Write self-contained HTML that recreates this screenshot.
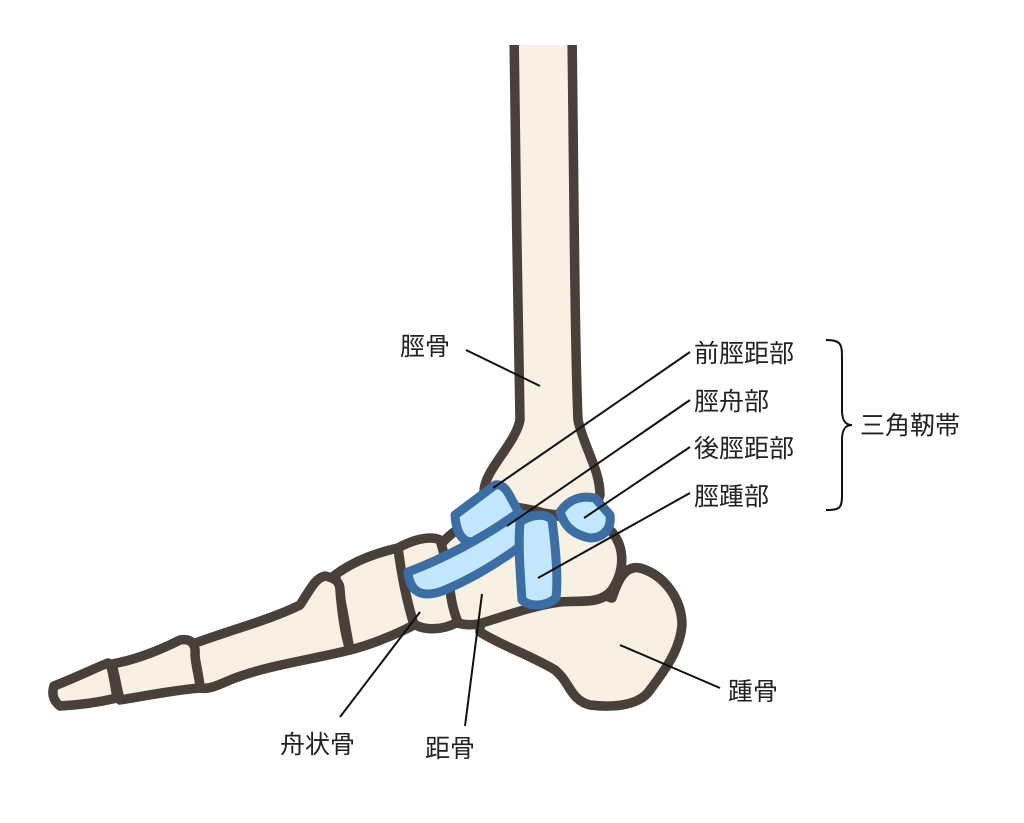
<!DOCTYPE html>
<html><head><meta charset="utf-8"><style>
html,body{margin:0;padding:0;background:#fff;}
svg{display:block;}
text{font-family:"Liberation Sans","Noto Sans CJK JP",sans-serif;font-size:25px;fill:#222;}
</style></head><body>
<svg width="1024" height="823" viewBox="0 0 1024 823">
<g fill="#f7f0e3" stroke="#4a403a" stroke-width="9.5" stroke-linejoin="round">
<path d="M480,612 C520,595 545,578 565,578 C590,580 605,598 612,598 C618,580 625,565 640,568 C665,575 682,600 682,625 C680,650 665,670 650,690 C640,705 615,708 590,705 C570,700 570,682 555,670 C530,655 500,645 480,632 Z"/>
<path d="M432,560 C440,540 460,522 490,518 C540,512 590,515 612,532 C625,548 625,570 612,590 C600,605 580,600 560,602 C530,606 500,618 478,624 C455,628 438,615 432,600 Z"/>
<path d="M514,30 L572,30 C574,200 575,350 578,420 C585,450 600,470 600,495 C595,515 560,518 540,512 C515,505 492,508 484,492 C484,470 515,445 520,420 C518,300 515,150 514,30 Z"/>
<path d="M398,548 C412,540 430,535 440,540 C450,570 448,600 458,622 C440,632 420,630 412,622 C405,600 400,575 398,548 Z"/>
<path d="M335,575 C355,560 380,552 398,548 C402,580 408,605 414,625 C395,635 370,645 350,650 C345,625 342,600 335,575 Z"/>
<path d="M190,645 C230,630 270,620 300,605 C310,590 315,578 325,576 C335,578 340,582 340,590 C342,615 345,635 350,650 C310,660 270,665 235,678 C220,684 210,690 200,688 C198,670 195,655 190,645 Z"/>
<path d="M112,664 C135,660 160,650 180,640 C192,638 196,645 195,655 C196,668 200,680 200,688 C175,690 150,695 120,700 C117,688 115,675 112,664 Z"/>
<path d="M54,686 C75,678 95,668 108,663 C112,665 114,680 117,698 C100,702 80,705 60,706 C52,700 52,692 54,686 Z"/>
</g>
<rect x="490" y="0" width="110" height="45" fill="#fff"/>
<g fill="#c2e6fb" stroke="#3b6ea4" stroke-width="9" stroke-linejoin="round">
<path d="M455,515 L495,485 C503,483 508,492 512,500 L522,518 L472,542 C462,542 456,532 455,515 Z"/>
<path d="M560,512 C568,500 580,495 595,498 L610,515 C612,530 602,538 590,538 C575,535 565,528 560,512 Z"/>
<path d="M408,572 C440,560 480,540 515,515 C530,512 540,518 535,535 C510,555 480,575 445,590 C425,598 410,595 408,572 Z"/>
<path d="M520,522 C530,515 545,512 552,520 C556,550 558,580 556,598 C545,607 530,607 522,600 C520,570 518,545 520,522 Z"/>
</g>
<g stroke="#111" stroke-width="2" fill="none">
<line x1="466" y1="350" x2="540" y2="386"/>
<line x1="690" y1="352" x2="493" y2="488"/>
<line x1="690" y1="400" x2="507" y2="526"/>
<line x1="690" y1="447" x2="584" y2="518"/>
<line x1="690" y1="493" x2="538" y2="578"/>
<line x1="620" y1="645" x2="720" y2="688"/>
<line x1="420" y1="612" x2="340" y2="717"/>
<line x1="482" y1="594" x2="465" y2="726"/>
<path d="M826,340 C842,340 842,345 842,360 L842,410 C842,420 845,425 852,425 C845,425 842,430 842,440 L842,495 C842,508 840,510 826,510"/>
</g>
<text x="400" y="355">脛骨</text>
<text x="694" y="362">前脛距部</text>
<text x="694" y="410">脛舟部</text>
<text x="694" y="457">後脛距部</text>
<text x="694" y="505">脛踵部</text>
<text x="860" y="434">三角靭帯</text>
<text x="728" y="700">踵骨</text>
<text x="280" y="753">舟状骨</text>
<text x="425" y="757">距骨</text>
</svg>
</body></html>
